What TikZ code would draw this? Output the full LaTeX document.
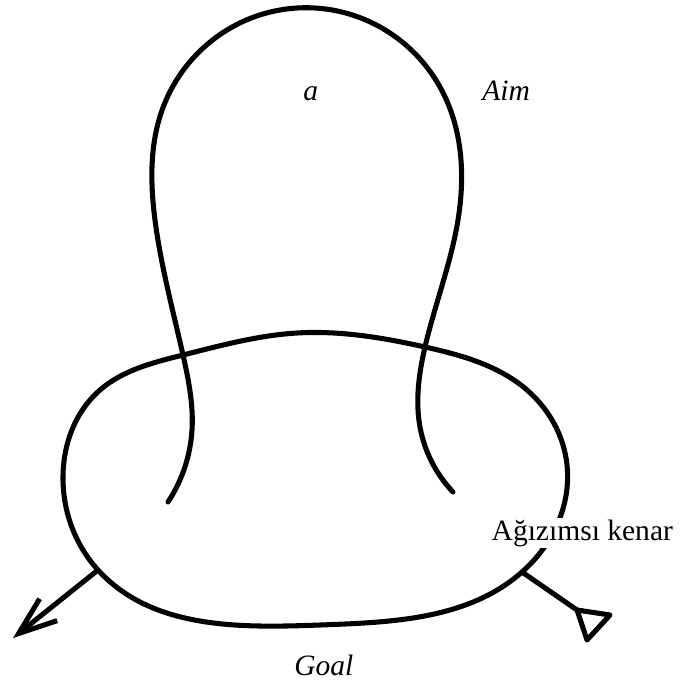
\documentclass[tikz,border=0pt]{standalone}
\usepackage{fontspec}
\setmainfont{Liberation Serif}
\usepackage{tikz}
\usetikzlibrary{arrows.meta, hobby}

\begin{document}
\begin{tikzpicture}[
  x=0.025cm, y=-0.025cm,
  use Hobby shortcut,
  every node/.style={font=\fontsize{21}{25}\selectfont},
  pen/.style={line width=3.6pt, line cap=round, line join=round},
  lbl/.style={font=\fontsize{21}{25}\selectfont\itshape, anchor=base west, inner sep=0pt},
  barb/.style={-{Straight Barb[length=0.95cm, width=0.7cm, line width=3.6pt]}},
]
\useasboundingbox (0,0) rectangle (680,690);

% Ends on the rim
\coordinate (rimL) at (98,570);
\coordinate (rimR) at (522,572);
\coordinate (tipL) at (13,638);
\coordinate (cupA) at (577,610);
\coordinate (cupB) at (610,615);
\coordinate (cupC) at (587,640);

% Rim (closed curve)
\draw[pen, closed=true] (297,333) .. (425,347) .. (527,390) .. (567,465)
  .. (rimR) .. (320,625) .. (rimL) .. (63,480) .. (100,390) .. (183,355);

% Loop
\draw[pen] (168,502) .. (192,430) .. (183,355) .. (155,220) .. (164,105)
  .. (297,8) .. (440,87) .. (458,220) .. (425,347) .. (420,427) .. (453,492);

\draw[pen, barb] (rimL) -- (tipL);
\draw[pen] (rimR) -- (cupA);
\draw[pen] (cupA) -- (cupB) -- (cupC) -- cycle;

% Labels
\node[lbl] (a) at (303,100) {a};
\node[lbl] (aim) at (482,101) {Aim};
\node[lbl] (goal) at (294,675) {Goal};
\node[anchor=base west, fill=white, inner sep=1pt] (kenar) at (490,540) {Ağızımsı kenar};

\end{tikzpicture}
\end{document}
